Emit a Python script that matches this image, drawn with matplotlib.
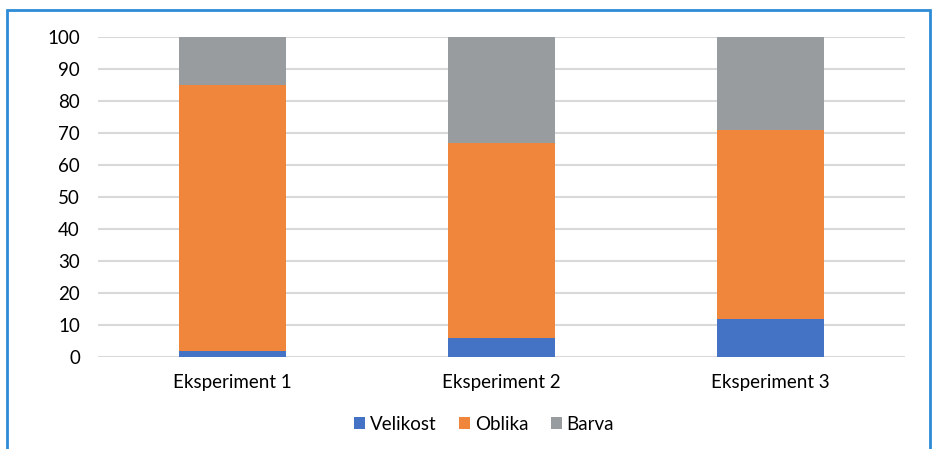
import matplotlib.pyplot as plt
import numpy as np
from matplotlib.patches import Rectangle

plt.rcParams['font.family'] = ['Lato', 'DejaVu Sans']

categories = ["Eksperiment 1", "Eksperiment 2", "Eksperiment 3"]
velikost = [2, 6, 12]
oblika = [83, 61, 59]
barva = [15, 33, 29]
series = [("Velikost", velikost, "#4472C4"),
          ("Oblika", oblika, "#F0853C"),
          ("Barva", barva, "#999C9F")]
yticks = list(range(0, 101, 10))

W, H = 936, 449
fig = plt.figure(figsize=(W / 100, H / 100), dpi=100)
ax = fig.add_axes([98 / W, 1 - 357 / H, (905 - 98) / W, 320 / H])

x = np.arange(len(categories))
bottom = np.zeros(len(categories))
for name, vals, color in series:
    ax.bar(x, vals, 0.4, bottom=bottom, color=color, label=name, zorder=3)
    bottom += np.array(vals)

ax.set_xlim(-0.5, len(categories) - 0.5)
ax.set_ylim(0, 100)
ax.set_yticks(yticks)
ax.set_xticks(x)
ax.set_xticklabels(categories)
ax.tick_params(axis='both', length=0, labelsize=13.5, colors="#000000")
ax.tick_params(axis='y', pad=13)
ax.tick_params(axis='x', pad=12)
ax.yaxis.grid(True, color="#D9D9D9", linewidth=1.5, zorder=0)
for s in ax.spines.values():
    s.set_visible(False)

ax.legend(loc='center', bbox_to_anchor=(484 / W, 1 - 424 / H), bbox_transform=fig.transFigure,
          ncol=3, frameon=False, fontsize=13.5, handlelength=0.6, handleheight=0.6,
          handletextpad=0.25, columnspacing=1.2)

fig.patches.append(Rectangle((7 / W, -0.1), (930 - 7) / W, 1.1 - 10 / H,
                             transform=fig.transFigure, fill=False,
                             edgecolor="#2E8BD6", linewidth=2))

fig.savefig("out.png", dpi=100)
